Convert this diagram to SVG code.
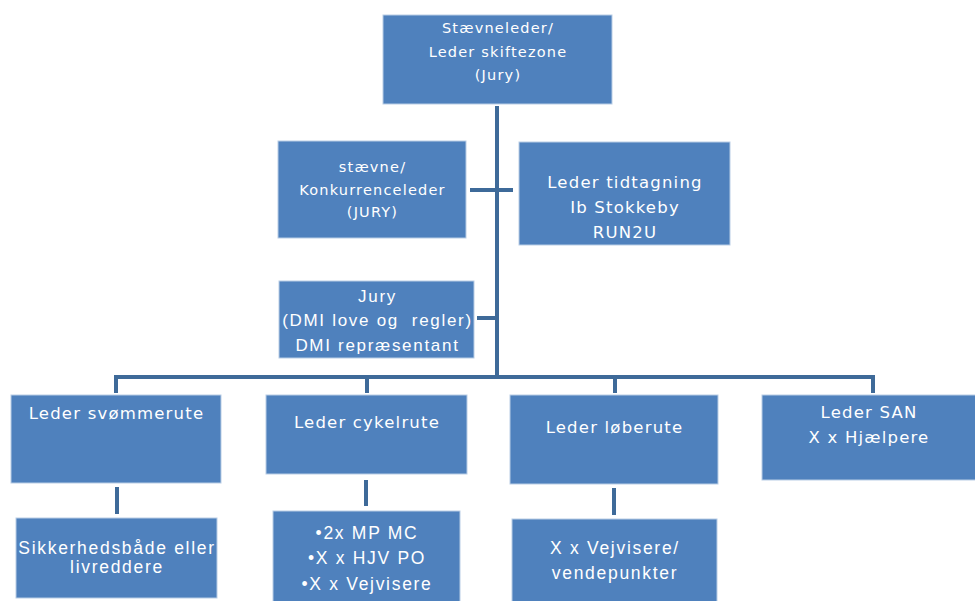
<svg xmlns="http://www.w3.org/2000/svg" width="975" height="601" viewBox="0 0 975 601">
<style>
.box{fill:#4f81bd;stroke:#b9cde5;stroke-width:1}
.c{fill:none;stroke:#3e6a99;stroke-width:4}
.v{font-family:"DejaVu Sans",Verdana,sans-serif;fill:#fff;text-anchor:middle;letter-spacing:1.2px}
.a{font-family:"Liberation Sans",Arial,sans-serif;fill:#fff;text-anchor:middle;letter-spacing:1.7px}
</style>
<rect width="975" height="601" fill="#fff"/>
<g id="connectors">
<path class="c" d="M497 106V377"/>
<path class="c" d="M470 190H513"/>
<path class="c" d="M477 318H497"/>
<path class="c" d="M116 393V377H873V393"/>
<path class="c" d="M367 377V393"/>
<path class="c" d="M615 377V393"/>
<path class="c" d="M117 487V514"/>
<path class="c" d="M366 480V506"/>
<path class="c" d="M614 488V515"/>
</g>
<g id="n1"><rect class="box" x="383" y="15" width="229" height="89"/>
<text class="v" font-size="14.5"><tspan x="498" y="33">Stævneleder/</tspan><tspan x="498" y="57">Leder skiftezone</tspan><tspan x="498" y="80">(Jury)</tspan></text></g>
<g id="n2"><rect class="box" x="278" y="141" width="188" height="97"/>
<text class="v" font-size="14.5"><tspan x="372.5" y="172">stævne/</tspan><tspan x="372.5" y="195">Konkurrenceleder</tspan><tspan x="372.5" y="217">(JURY)</tspan></text></g>
<g id="n3"><rect class="box" x="519" y="142" width="211" height="103"/>
<text class="v" font-size="16.5"><tspan x="625" y="188">Leder tidtagning</tspan><tspan x="625" y="213">Ib Stokkeby</tspan><tspan x="625" y="238">RUN2U</tspan></text></g>
<g id="n4"><rect class="box" x="279" y="281" width="195" height="77"/>
<text class="a" font-size="17" xml:space="preserve"><tspan x="377.5" y="302">Jury</tspan><tspan x="377.5" y="326">(DMI love og  regler)</tspan><tspan x="377.5" y="351">DMI repræsentant</tspan></text></g>
<g id="n5"><rect class="box" x="11" y="395" width="210" height="88"/>
<text class="v" font-size="16.5" x="116.5" y="419">Leder svømmerute</text></g>
<g id="n6"><rect class="box" x="266" y="395" width="201" height="79"/>
<text class="v" font-size="16.5" x="367" y="428">Leder cykelrute</text></g>
<g id="n7"><rect class="box" x="510" y="395" width="208" height="89"/>
<text class="v" font-size="16.5" x="614.5" y="433">Leder løberute</text></g>
<g id="n8"><rect class="box" x="762" y="395" width="214" height="85"/>
<text class="v" font-size="16.5"><tspan x="869" y="418">Leder SAN</tspan><tspan x="869" y="443">X x Hjælpere</tspan></text></g>
<g id="n9"><rect class="box" x="16" y="518" width="201" height="80"/>
<text class="a" font-size="17.5"><tspan x="117" y="554">Sikkerhedsbåde eller</tspan><tspan x="117" y="573">livreddere</tspan></text></g>
<g id="n10"><rect class="box" x="273" y="511" width="187" height="92"/>
<text class="a" font-size="17.5"><tspan x="367" y="539">•2x MP MC</tspan><tspan x="367" y="564">•X x HJV PO</tspan><tspan x="367" y="590">•X x Vejvisere</tspan></text></g>
<g id="n11"><rect class="box" x="512" y="519" width="205" height="84"/>
<text class="a" font-size="17.5"><tspan x="615" y="554">X x Vejvisere/</tspan><tspan x="615" y="579">vendepunkter</tspan></text></g>
</svg>
